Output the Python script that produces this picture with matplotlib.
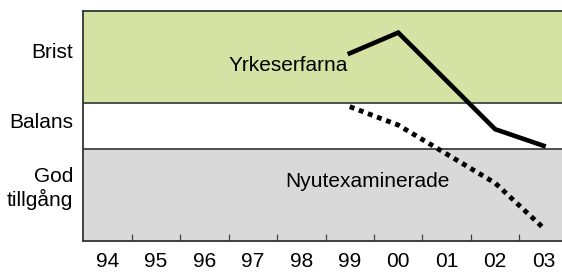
import matplotlib
matplotlib.use('Agg')
import matplotlib.pyplot as plt

plt.rcParams['font.family'] = ['Liberation Sans', 'DejaVu Sans']

years = ['94', '95', '96', '97', '98', '99', '00', '01', '02', '03']
yrke_x = [5, 6, 8, 9]
yrke_y = [4.08, 4.53, 2.43, 2.07]
nyut_x = [5, 6, 8, 9]
nyut_y = [2.92, 2.52, 1.26, 0.28]
band_names = ['Brist', 'Balans', 'God\ntillgång']

fig = plt.figure(figsize=(5.62, 2.73), dpi=100)
ax = fig.add_axes([83 / 562, 32 / 273, 479 / 562, 230 / 273])

# bakgrundsband
ax.axhspan(3, 5, color='#d4e3a3', lw=0)
ax.axhspan(2, 3, color='white', lw=0)
ax.axhspan(0, 2, color='#d9d9d9', lw=0)
ax.axhline(3, color='#333333', lw=1.2)
ax.axhline(2, color='#333333', lw=1.2)

ax.plot(yrke_x, yrke_y, color='black', lw=3.3, solid_joinstyle='miter')
ax.plot(nyut_x, nyut_y, color='black', lw=3.5, linestyle=(0, (1, 1)),
        dash_capstyle='butt')

ax.text(2.49, 3.70, 'Yrkeserfarna', fontsize=15, ha='left', va='baseline')
ax.text(3.66, 1.18, 'Nyutexaminerade', fontsize=15, ha='left', va='baseline')

ax.set_xlim(-0.506, 9.38)
ax.set_ylim(0, 5)

ax.set_xticks([i + 0.5 for i in range(9)])
ax.set_xticklabels([])
ax.set_xticks(range(len(years)), minor=True)
ax.set_xticklabels(years, minor=True, fontsize=15)
ax.tick_params(axis='x', which='major', direction='in', length=5, width=0.9, color='#444444')
ax.tick_params(axis='x', which='minor', length=0, pad=8)

ax.set_yticks([4.15, 2.62, 1.22])
ax.set_yticklabels(band_names, fontsize=15, ha='right')
ax.tick_params(axis='y', length=0, pad=7)

for s in ['top', 'left', 'bottom']:
    ax.spines[s].set_color('#333333')
    ax.spines[s].set_linewidth(1.3)
ax.spines['right'].set_visible(False)

fig.savefig('out.png', dpi=100)
